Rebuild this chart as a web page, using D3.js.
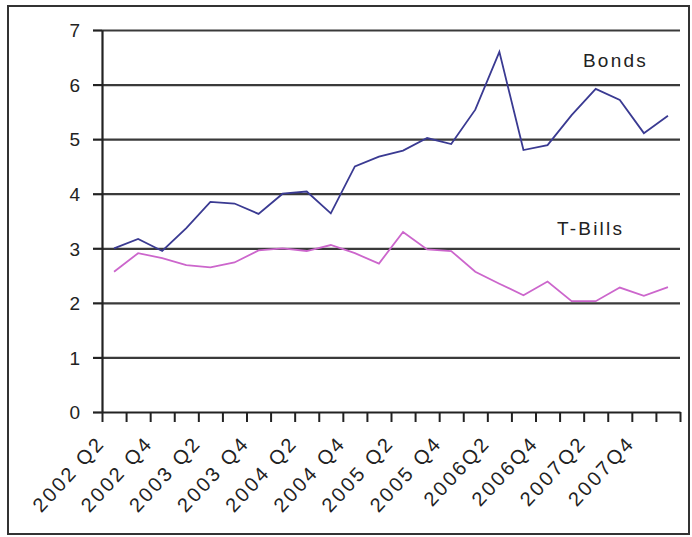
<!DOCTYPE html>
<html>
<head>
<meta charset="utf-8">
<script src="https://cdn.jsdelivr.net/npm/d3@7"></script>
<style>
  html, body { margin: 0; padding: 0; background: #fff; }
  svg { display: block; }
  text { font-family: "Liberation Sans", Arial, sans-serif; fill: #222; }
</style>
</head>
<body>
<svg id="chart" width="692" height="537"></svg>
<script>
// Quarterly yields, 2002 Q2 – 2008 Q1
const quarters = [
  "2002 Q2", "2002 Q3", "2002 Q4",
  "2003 Q1", "2003 Q2", "2003 Q3", "2003 Q4",
  "2004 Q1", "2004 Q2", "2004 Q3", "2004 Q4",
  "2005 Q1", "2005 Q2", "2005 Q3", "2005 Q4",
  "2006Q1", "2006Q2", "2006Q3", "2006Q4",
  "2007Q1", "2007Q2", "2007Q3", "2007Q4",
  "2008Q1"
];
const bonds = [3.00, 3.17, 2.95, 3.37, 3.85, 3.82, 3.63, 4.00, 4.04, 3.64,
               4.50, 4.68, 4.79, 5.02, 4.91, 5.54, 6.60, 4.80, 4.89, 5.44,
               5.92, 5.72, 5.11, 5.43];
const tbills = [2.57, 2.91, 2.82, 2.69, 2.65, 2.74, 2.96, 3.00, 2.95, 3.06,
                2.91, 2.72, 3.30, 2.98, 2.95, 2.57, 2.35, 2.14, 2.39, 2.03,
                2.03, 2.28, 2.13, 2.29];
const yTicks = [0, 1, 2, 3, 4, 5, 6, 7];
// every other quarter carries a label
const labelledQuarters = quarters.filter((q, i) => i % 2 === 0);

const svg = d3.select("#chart");
const plot = { left: 102, right: 680, top: 30, bottom: 412 };

// outer frame
svg.append("rect")
  .attr("x", 8).attr("y", 6)
  .attr("width", 681).attr("height", 528)
  .attr("fill", "none").attr("stroke", "#333").attr("stroke-width", 2);

const x = d3.scaleBand().domain(quarters).range([plot.left, plot.right]).padding(0);
const xEdge = d3.scaleLinear().domain([0, quarters.length]).range([plot.left, plot.right]);
const y = d3.scaleLinear().domain([0, 7]).range([plot.bottom, plot.top]);
const cx = q => x(q) + x.bandwidth() / 2;

// horizontal gridlines
svg.append("g")
  .attr("transform", `translate(${plot.left},0)`)
  .call(d3.axisLeft(y).tickValues(yTicks.slice(1)).tickSize(-(plot.right - plot.left)).tickFormat(""))
  .call(g => g.select(".domain").remove())
  .call(g => g.selectAll("line").attr("stroke", "#3a3a3a").attr("stroke-width", 2.2));

// y axis
svg.append("g")
  .attr("transform", `translate(${plot.left},0)`)
  .call(d3.axisLeft(y).tickValues(yTicks).tickFormat(d3.format("d"))
    .tickSize(9).tickPadding(13).tickSizeOuter(0))
  .call(g => g.select(".domain").attr("stroke", "#222").attr("stroke-width", 2.2))
  .call(g => g.selectAll("line").attr("stroke", "#222").attr("stroke-width", 2.2))
  .call(g => g.selectAll("text")
    .attr("font-size", 19).attr("dy", "0.36em")
    .style("font-family", '"Liberation Sans", Arial, sans-serif').attr("fill", "#222"));

// x axis with ticks between quarters
svg.append("g")
  .attr("transform", `translate(0,${plot.bottom})`)
  .call(d3.axisBottom(xEdge).tickValues(d3.range(0, quarters.length + 1)).tickSize(10).tickSizeOuter(0).tickFormat(""))
  .call(g => g.select(".domain").attr("stroke", "#222").attr("stroke-width", 2.2))
  .call(g => g.selectAll("line").attr("stroke", "#222").attr("stroke-width", 2));

// rotated quarter labels
svg.append("g")
  .selectAll("text")
  .data(labelledQuarters)
  .join("text")
  .attr("transform", q => `translate(${cx(q) - 8},444) rotate(-47)`)
  .attr("text-anchor", "end")
  .attr("font-size", 20)
  .attr("letter-spacing", 2.6)
  .text(q => q);

// series lines
const line = d3.line()
  .x((d, i) => cx(quarters[i]))
  .y(d => y(d));

svg.append("path")
  .datum(tbills)
  .attr("d", line)
  .attr("fill", "none")
  .attr("stroke", "#cc66cc")
  .attr("stroke-width", 1.8);

svg.append("path")
  .datum(bonds)
  .attr("d", line)
  .attr("fill", "none")
  .attr("stroke", "#3a3a92")
  .attr("stroke-width", 1.8);

// series names
svg.append("text")
  .attr("x", 583).attr("y", 67)
  .attr("font-size", 19).attr("letter-spacing", 2.2)
  .text("Bonds");
svg.append("text")
  .attr("x", 557).attr("y", 235)
  .attr("font-size", 19).attr("letter-spacing", 2.2)
  .text("T-Bills");
</script>
</body>
</html>
